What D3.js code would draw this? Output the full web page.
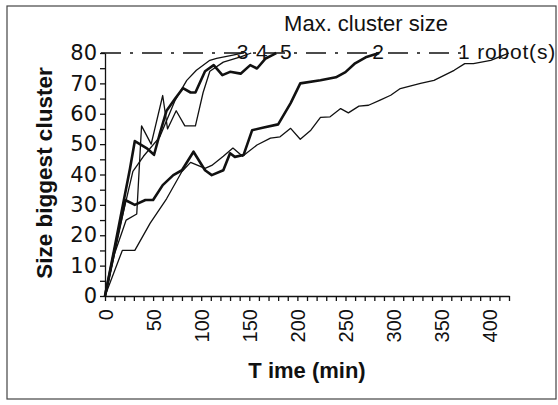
<!DOCTYPE html>
<meta charset="utf-8">
<style>
body { margin: 0; background: #fff; }
svg { display: block; }
.axis path, .axis line { stroke: #111; stroke-width: 1.3px; }
.axis text { fill: #111; }
.curve { fill: none; stroke: #111; stroke-linejoin: round; }
</style>
<svg width="558" height="405"></svg>
<script src="https://d3js.org/d3.v7.min.js"></script>
<script>
// time (min), size of biggest cluster
var robots1 = [[0,0],[18,15],[31,15],[47,24],[64,32],[80,41],[89,44],[104,42],[111,43],[123,46],[133,48.7],[143,46],[158,49.7],[172,52],[182,52.4],[193,55.2],[203,51.6],[214,54.6],[224,58.8],[234,59],[245,61.7],[253,60.3],[264,62.5],[274,62.8],[286,64.5],[297,66.1],[307,68.3],[318,69.2],[328,70],[342,71],[363,74.3],[374,76.5],[383,76.5],[401,77.6],[412,79],[420,80]];
var robots2 = [[0,0],[8,12],[21,31.6],[31,30],[42,31.6],[50,31.6],[60,36.5],[71,39.8],[80,41.4],[92,47.5],[104,41.4],[111,39.8],[123,41.4],[130,47],[135,45.8],[144,46.4],[153,54.6],[165,55.5],[180,56.5],[193,63.5],[203,70],[224,71],[240,72],[250,73.7],[260,76.6],[271,78.6],[285,80]];
var robots3 = [[0,0],[12,18],[29,41],[40,46],[57,52.4],[73,64.5],[85,71],[95,74.3],[109,77.6],[116,78.2],[133,79.3],[143,80]];
var robots4 = [[0,0],[10,14],[22,25],[33,27],[38,56],[48,50],[60,66],[65,55],[74,61],[83,56],[94,56],[102,67],[109,74],[123,77],[141,78.7],[152,80]];
var robots5 = [[0,0],[10,16],[26,42],[31,51],[44,48.5],[51,46.5],[57,53.5],[64,61],[73,65],[81,68.4],[89,67],[94,67],[104,74],[113,76],[122,72.7],[130,73.8],[141,73.2],[151,76],[158,74.9],[167,78.2],[174,79.3],[178,80]];

var thinSeries = [robots1, robots3, robots4];
var thickSeries = [robots2, robots5];

// labels sitting on the 80 line, placed at a time value
var endLabels = [["3",143],["4",163],["5",188],["2",284],["1",373]];

var timeTicks = d3.range(0, 421, 10);
var sizeTicks = d3.range(0, 81, 5);
var maxSize = 80;

var svg = d3.select("svg");

// outer frame
svg.append("rect")
  .attr("x", 7).attr("y", 6)
  .attr("width", 549).attr("height", 393)
  .attr("fill", "none")
  .attr("stroke", "#444")
  .attr("stroke-width", 1.2);

var x = d3.scaleLinear().domain([0, 420]).range([105, 509]);
var y = d3.scaleLinear().domain([0, 80]).range([296, 53]);

// dash-dot line at the maximum cluster size
svg.append("line")
  .attr("x1", x(0) - 4).attr("x2", x(370))
  .attr("y1", y(maxSize)).attr("y2", y(maxSize))
  .attr("stroke", "#111")
  .attr("stroke-width", 1.3)
  .attr("stroke-dasharray", "20,9,3,9");

var xAxis = svg.append("g")
  .attr("class", "axis")
  .attr("transform", "translate(0," + y(0) + ")")
  .call(d3.axisBottom(x)
    .tickValues(timeTicks)
    .tickSize(5)
    .tickSizeOuter(0)
    .tickFormat(function(d) { return d % 50 == 0 ? d : ""; }));

xAxis.selectAll("text")
  .attr("transform", "rotate(-90)")
  .attr("text-anchor", "end")
  .attr("x", -13)
  .attr("y", 0)
  .attr("dy", "0.36em")
  .style("font-family", "'Liberation Sans', Arial, sans-serif")
  .style("font-size", "20px");

var yAxis = svg.append("g")
  .attr("class", "axis")
  .attr("transform", "translate(" + x(0) + ",0)")
  .call(d3.axisLeft(y)
    .tickValues(sizeTicks)
    .tickSize(5)
    .tickSizeOuter(0)
    .tickFormat(function(d) { return d % 10 == 0 ? d : ""; }));

yAxis.selectAll("text")
  .attr("x", -8)
  .style("font-family", "'DejaVu Sans', sans-serif")
  .style("font-size", "21px");

var line = d3.line()
  .x(function(d) { return x(d[0]); })
  .y(function(d) { return y(d[1]); });

svg.selectAll(".thin")
  .data(thinSeries)
  .enter().append("path")
  .attr("class", "curve thin")
  .attr("stroke-width", 1.3)
  .attr("d", line);

svg.selectAll(".thick")
  .data(thickSeries)
  .enter().append("path")
  .attr("class", "curve thick")
  .attr("stroke-width", 2.6)
  .attr("d", line);

// labels
svg.selectAll(".endlabel")
  .data(endLabels)
  .enter().append("text")
  .attr("class", "endlabel")
  .attr("x", function(d) { return x(d[1]); })
  .attr("y", 59)
  .attr("text-anchor", "middle")
  .style("font-family", "'Liberation Sans', Arial, sans-serif")
  .style("font-size", "21px")
  .style("fill", "#111")
  .text(function(d) { return d[0]; });

svg.append("text")
  .attr("x", x(387))
  .attr("y", 59)
  .style("font-family", "'Liberation Sans', Arial, sans-serif")
  .style("font-size", "21px")
  .style("letter-spacing", "0.8px")
  .style("fill", "#111")
  .text("robot(s)");

svg.append("text")
  .attr("x", 366)
  .attr("y", 31)
  .attr("text-anchor", "middle")
  .style("font-family", "'Liberation Sans', Arial, sans-serif")
  .style("font-size", "22px")
  .style("fill", "#111")
  .text("Max. cluster size");

svg.append("text")
  .attr("transform", "translate(52,173) rotate(-90)")
  .attr("text-anchor", "middle")
  .style("font-family", "'Liberation Sans', Arial, sans-serif")
  .style("font-weight", "bold")
  .style("font-size", "22.5px")
  .style("fill", "#111")
  .text("Size biggest cluster");

svg.append("text")
  .attr("x", 307)
  .attr("y", 378)
  .attr("text-anchor", "middle")
  .style("font-family", "'Liberation Sans', Arial, sans-serif")
  .style("font-weight", "bold")
  .style("font-size", "22px")
  .style("fill", "#111")
  .text("T ime (min)");
</script>
